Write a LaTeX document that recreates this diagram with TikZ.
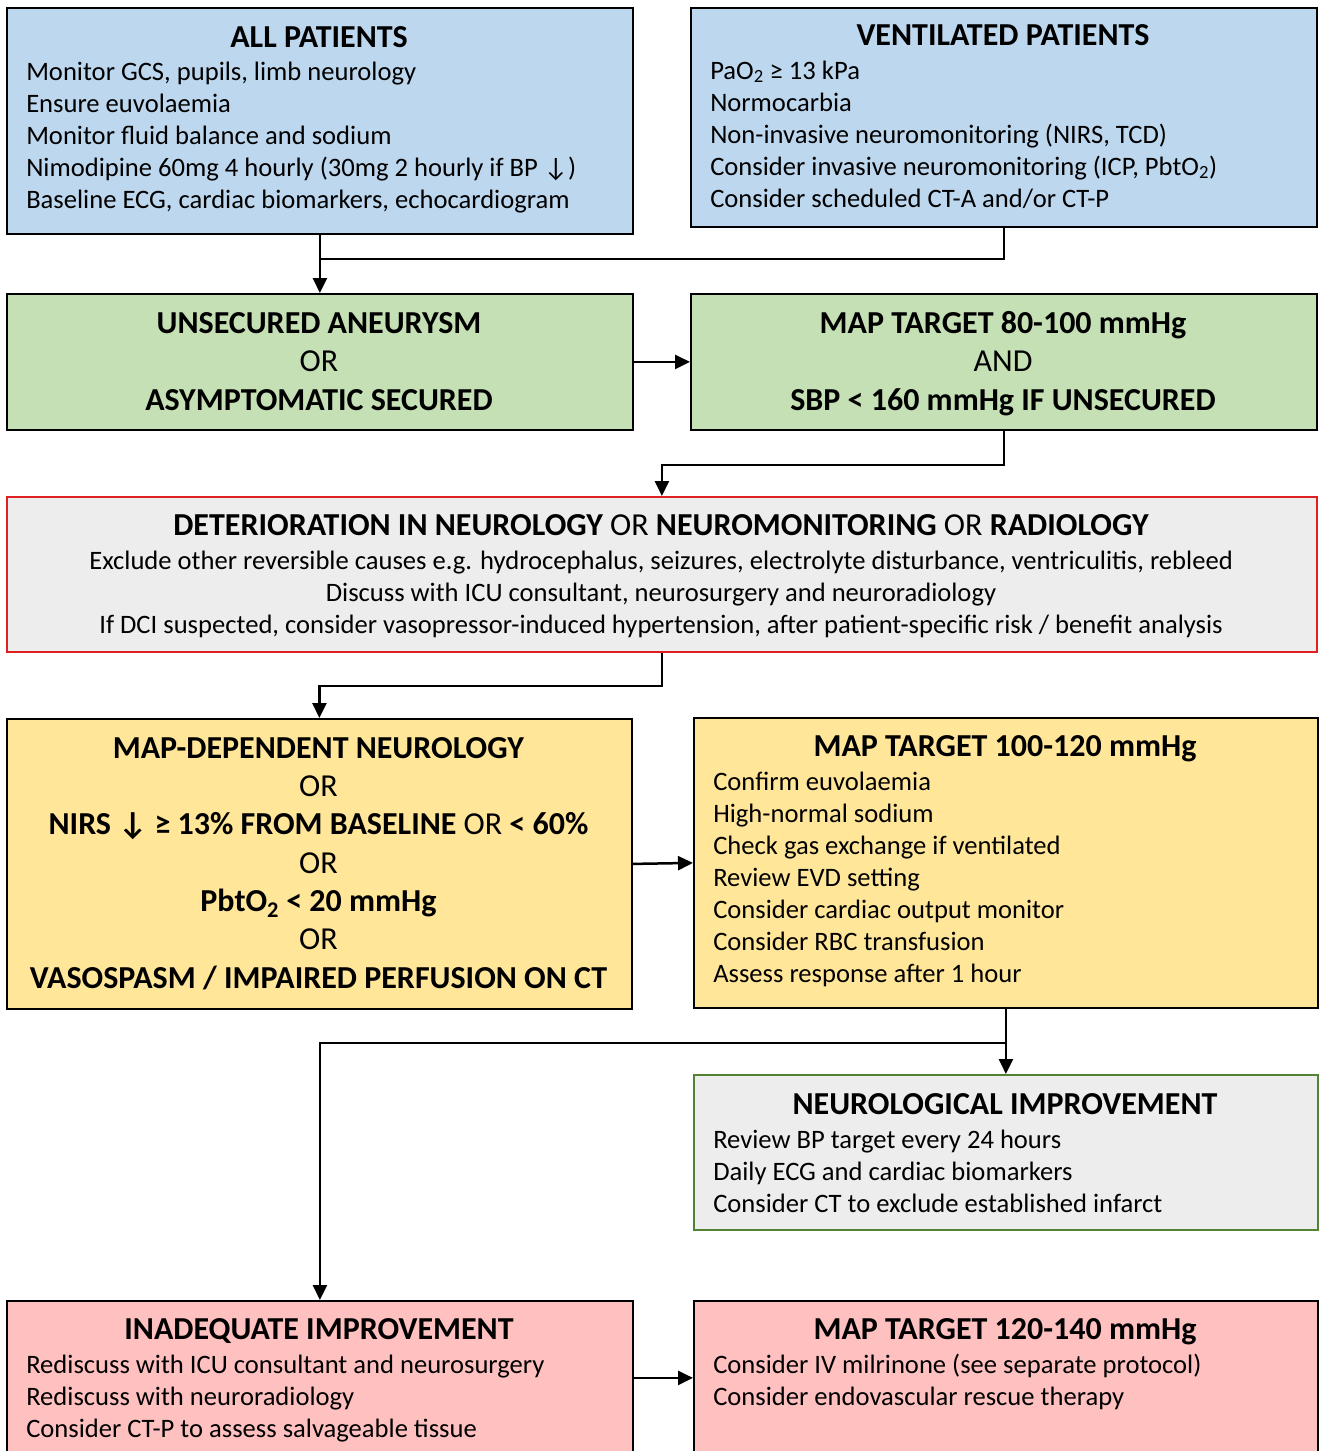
\documentclass[tikz,border=0pt]{standalone}
\usepackage{fontspec}
\setmainfont{Carlito}
\usepackage{tikz}
\usetikzlibrary{arrows.meta}
\usetikzlibrary{calc}
\usetikzlibrary{positioning}
\definecolor{boxblue}{HTML}{BDD7EE}
\definecolor{boxgreen}{HTML}{C5E0B4}
\definecolor{boxgrey}{HTML}{EDEDED}
\definecolor{boxyellow}{HTML}{FFE699}
\definecolor{boxpink}{HTML}{FFC0C0}
\definecolor{linered}{HTML}{E02020}
\definecolor{linegreen}{HTML}{548235}

\begin{document}
\begin{tikzpicture}[x=1pt,y=-1pt,>={Triangle[length=15pt,width=14pt]},line width=2.5pt]
\tikzstyle{box} = [rectangle,draw,line width=1.8pt,anchor=north west,inner sep=0pt]
\tikzstyle{head} = [anchor=base,inner sep=0pt,font=\fontsize{32}{36}\selectfont\bfseries]
\tikzstyle{items} = [anchor=base west,inner sep=0pt,align=left,font=\fontsize{26.6}{32}\selectfont]
\tikzstyle{big} = [anchor=base,inner sep=0pt,align=center,font=\fontsize{32}{38.33}\selectfont]

\useasboundingbox (0,0) rectangle (1322,1451);
\clip (0,0) rectangle (1322,1451);
\fill[white] (0,0) rectangle (1322,1451);

% boxes
\node[box,fill=boxblue,minimum width=626pt,minimum height=226pt] (AP) at (6,7) {};
\node[box,fill=boxblue,minimum width=626pt,minimum height=219pt] (VP) at (690,7) {};
\node[box,fill=boxgreen,minimum width=626pt,minimum height=136pt] (UA) at (6,293) {};
\node[box,fill=boxgreen,minimum width=626pt,minimum height=136pt] (MT1) at (690,293) {};
\node[box,fill=boxgrey,draw=linered,minimum width=1310pt,minimum height=155pt] (DT) at (6,496) {};
\node[box,fill=boxyellow,minimum width=625pt,minimum height=290pt] (MD) at (6,718) {};
\node[box,fill=boxyellow,minimum width=624pt,minimum height=290pt] (MT2) at (693,717) {};
\node[box,fill=boxgrey,draw=linegreen,minimum width=624pt,minimum height=155pt] (NI) at (693,1074) {};
\node[box,fill=boxpink,minimum width=626pt,minimum height=154pt] (IA) at (6,1300) {};
\node[box,fill=boxpink,minimum width=624pt,minimum height=154pt] (MT3) at (693,1300) {};

% texts
\node[head] (APh) at (319,47) {ALL PATIENTS};
\node[items] (APt) at (25,208) {Monitor GCS, pupils, limb neurology\\Ensure euvolaemia\\Monitor fluid balance and sodium\\Nimodipine 60mg 4 hourly (30mg 2 hourly if BP ↓)\\Baseline ECG, cardiac biomarkers, echocardiogram};

\node[head] (VPh) at (1003,45) {VENTILATED PATIENTS};
\node[items] (VPt) at (709,207) {PaO\textsubscript{2} ≥ 13 kPa\\Normocarbia\\Non-invasive neuromonitoring (NIRS, TCD)\\Consider invasive neuromonitoring (ICP, PbtO\textsubscript{2})\\Consider scheduled CT-A and/or CT-P};

\node[big] (UAt) at (319,410) {\textbf{UNSECURED ANEURYSM}\\OR\\\textbf{ASYMPTOMATIC SECURED}};
\node[big] (MT1t) at (1003,410) {\textbf{MAP TARGET 80-100 mmHg}\\AND\\\textbf{SBP < 160 mmHg IF UNSECURED}};

\node[head] (DTh) at (661,535) {DETERIORATION IN NEUROLOGY {\mdseries OR} NEUROMONITORING {\mdseries OR} RADIOLOGY};
\node[items,anchor=base,align=center] (DTt) at (661,633) {Exclude other reversible causes e.g. hydrocephalus, seizures, electrolyte disturbance, ventriculitis, rebleed\\Discuss with ICU consultant, neurosurgery and neuroradiology\\If DCI suspected, consider vasopressor-induced hypertension, after patient-specific risk / benefit analysis};

\node[big] (MDt) at (318.5,988) {\textbf{MAP-DEPENDENT NEUROLOGY}\\OR\\\textbf{NIRS ↓ ≥ 13\% FROM BASELINE} OR \textbf{< 60\%}\\OR\\\textbf{PbtO\textsubscript{2} < 20 mmHg}\\OR\\\textbf{VASOSPASM / IMPAIRED PERFUSION ON CT}};

\node[head] (MT2h) at (1005,756) {MAP TARGET 100-120 mmHg};
\node[items] (MT2t) at (712,982) {Confirm euvolaemia\\High-normal sodium\\Check gas exchange if ventilated\\Review EVD setting\\Consider cardiac output monitor\\Consider RBC transfusion\\Assess response after 1 hour};

\node[head] (NIh) at (1005,1114) {NEUROLOGICAL IMPROVEMENT};
\node[items] (NIt) at (712,1212) {Review BP target every 24 hours\\Daily ECG and cardiac biomarkers\\Consider CT to exclude established infarct};

\node[head] (IAh) at (319,1339) {INADEQUATE IMPROVEMENT};
\node[items] (IAt) at (25,1437) {Rediscuss with ICU consultant and neurosurgery\\Rediscuss with neuroradiology\\Consider CT-P to assess salvageable tissue};

\node[head] (MT3h) at (1005,1339) {MAP TARGET 120-140 mmHg};
\node[items] (MT3t) at (712,1405) {Consider IV milrinone (see separate protocol)\\Consider endovascular rescue therapy};

% connectors
\coordinate (J1) at (319,259);
\coordinate (J3) at (1005,1043);
\draw[->] (AP.south) -- (UA.north);
\draw (VP.south) |- (J1);
\draw[->] (UA.east) -- (MT1.west);
\draw[->] (MT1.south) -- ++(0,34) -| (DT.north);
\draw[->] (DT.south) -- ++(0,33) -| (MD.north);
\draw[->] (MD.east) -- (MT2.west);
\draw[->] (MT2.south) -- (NI.north);
\draw[->] (J3) -| (IA.north);
\draw[->] (IA.east) -- (MT3.west);
\end{tikzpicture}
\end{document}
